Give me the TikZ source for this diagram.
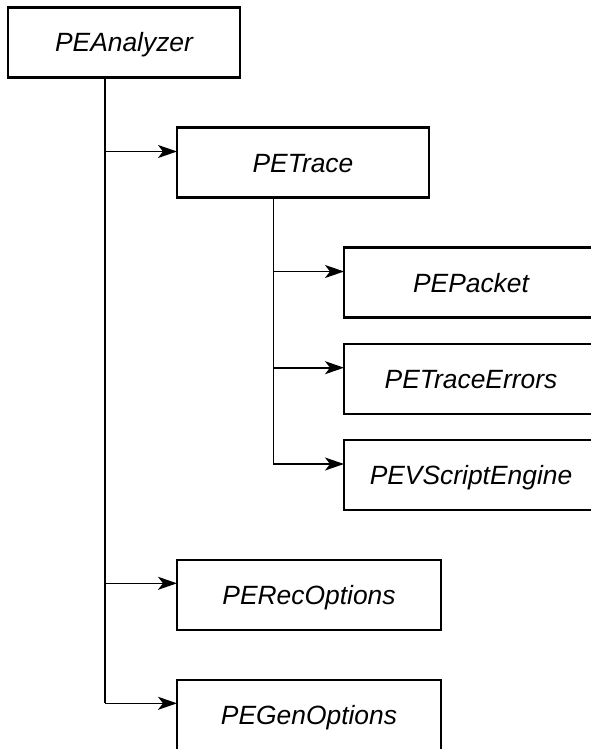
\documentclass[tikz,border=0pt]{standalone}
\usepackage{fontspec}
\setmainfont{Liberation Sans}
\usetikzlibrary{arrows.meta}
\tikzset{
  classbox/.style={draw, line width=2.4pt, inner sep=0pt, outer sep=0pt,
    minimum height=70pt, anchor=north west,
    text height=19pt, text depth=0pt,
    font=\fontsize{26.4}{30}\selectfont\itshape},
  link/.style={line width=1.6pt},
  feed/.style={link, -{Stealth[length=19pt,width=13pt,inset=5pt]}},
}
\begin{document}
\begin{tikzpicture}[x=1pt,y=-1pt]
  \clip (0,0) rectangle (591,749);
  \fill[white] (0,0) rectangle (591,749);

  % class boxes
  \node[classbox, minimum width=232pt] (ana)  at (8,7.5)   {PEAnalyzer};
  \node[classbox, minimum width=252pt] (trc)  at (177,127.5) {PETrace};
  \node[classbox, minimum width=254pt] (pkt)  at (344,247.5) {PEPacket};
  \node[classbox, minimum width=254pt] (err)  at (344,343.7) {PETraceErrors};
  \node[classbox, minimum width=254pt] (vse)  at (344,440)   {PEVScriptEngine};
  \node[classbox, minimum width=264pt] (rec)  at (177,560)   {PERecOptions};
  \node[classbox, minimum width=264pt] (gen)  at (177,680)   {PEGenOptions};

  % entry points on the left sides of the boxes
  \coordinate (trc-in) at ([yshift=-24pt]trc.north west);
  \coordinate (pkt-in) at ([yshift=-24pt]pkt.north west);
  \coordinate (err-in) at ([yshift=-24pt]err.north west);
  \coordinate (vse-in) at ([yshift=-24pt]vse.north west);
  \coordinate (rec-in) at ([yshift=-23.3pt]rec.north west);
  \coordinate (gen-in) at ([yshift=-23.3pt]gen.north west);

  % trunk below PEAnalyzer and its branches
  \coordinate (ana-t) at ([xshift=97pt]ana.south west);
  \draw[link] (ana-t) -- (ana-t |- gen-in);
  \draw[feed] (ana-t |- trc-in) -- (trc-in);
  \draw[feed] (ana-t |- rec-in) -- (rec-in);
  \draw[feed] (ana-t |- gen-in) -- (gen-in);

  % trunk below PETrace and its branches
  \coordinate (trc-t) at ([xshift=96.3pt]trc.south west);
  \draw[link] (trc-t) -- (trc-t |- vse-in);
  \draw[feed] (trc-t |- pkt-in) -- (pkt-in);
  \draw[feed] (trc-t |- err-in) -- (err-in);
  \draw[feed] (trc-t |- vse-in) -- (vse-in);
\end{tikzpicture}
\end{document}
